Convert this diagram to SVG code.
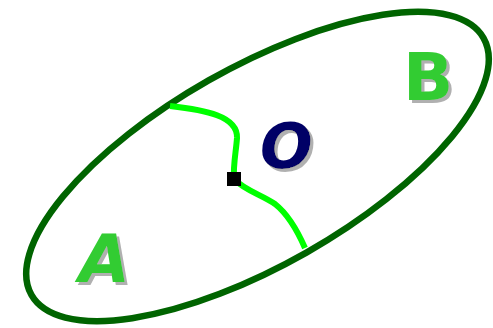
<svg xmlns="http://www.w3.org/2000/svg" width="493" height="328" viewBox="0 0 493 328">
<defs>
<filter id="shadow" x="-20%" y="-20%" width="150%" height="150%">
<feOffset in="SourceAlpha" dx="3" dy="3" result="off"/>
<feFlood flood-color="#b0b0b0"/>
<feComposite in2="off" operator="in" result="sh"/>
<feMerge><feMergeNode in="sh"/><feMergeNode in="SourceGraphic"/></feMerge>
</filter>
</defs>
<style>
.lbl{font-family:"DejaVu Sans","Liberation Sans",sans-serif;font-weight:bold;filter:url(#shadow)}
.g{fill:#33cc33}
.n{fill:#000066}
</style>
<rect width="493" height="328" fill="#fff"/>
<g id="region">
<ellipse cx="257.5" cy="166.5" rx="260" ry="99" transform="rotate(-29.6 257.5 166.5)" fill="none" stroke="#006400" stroke-width="6.5"/>
</g>
<g id="connectors">
<path d="M170,106 C205,110 238,116 237,138 C236,152 233,165 234,179 C244,190 262,195 275,204 C289,215 298,232 305,248" fill="none" stroke="#00ff00" stroke-width="6"/>
</g>
<g id="point">
<rect x="227" y="172" width="14" height="14" fill="#000"/>
</g>
<g id="labelA">
<text class="lbl g" x="79" y="282" font-size="66" font-style="italic">A</text>
</g>
<g id="labelB">
<text class="lbl g" x="403" y="100" font-size="66">B</text>
</g>
<g id="labelO">
<text class="lbl n" x="260" y="168" font-size="62" font-style="italic">O</text>
</g>
</svg>
